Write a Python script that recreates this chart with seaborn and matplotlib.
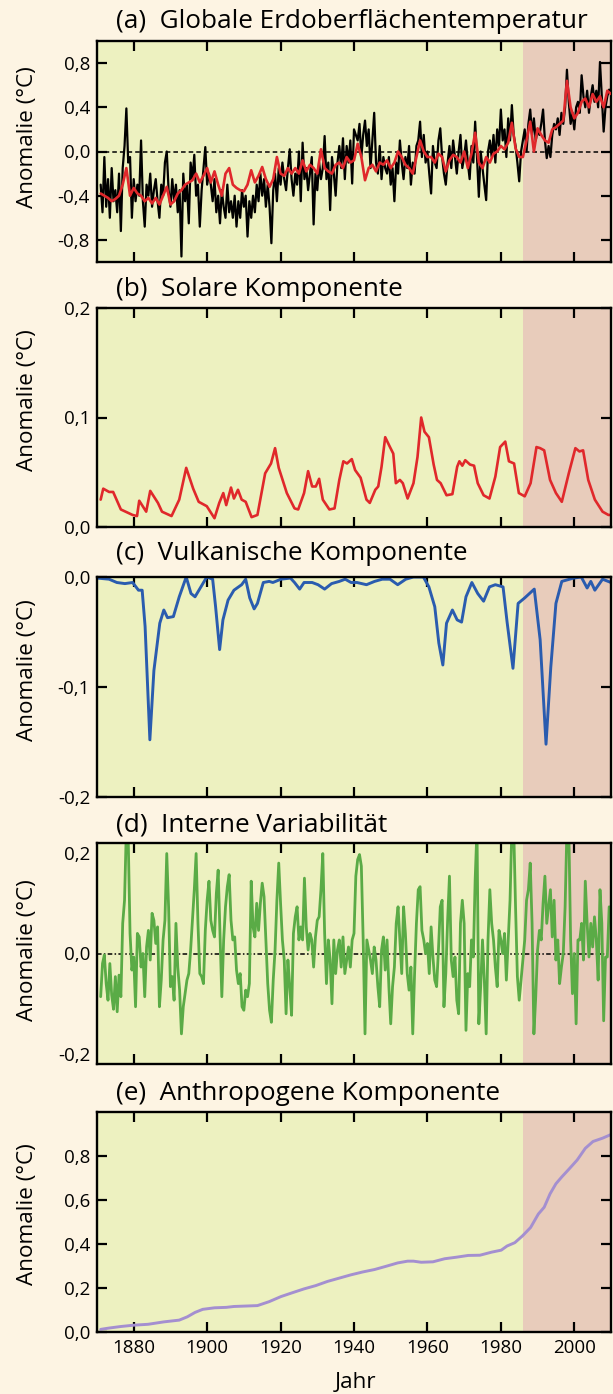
import numpy as np
import pandas as pd
import seaborn as sns
import matplotlib.pyplot as plt

# --- data ---
# (a) observed global temperature, half-year steps from 1871.0
obs_start = 1871.0
obs_temp = [
    -0.30, -0.55, -0.05, -0.50, -0.25, -0.60, -0.15, -0.45, -0.35, -0.55,
    -0.20, -0.72, -0.15, 0.05, 0.39, -0.10, -0.05, -0.60, -0.25, -0.45,
    -0.30, -0.40, 0.10, -0.45, -0.68, -0.30, -0.40, -0.20, -0.50, -0.35,
    -0.25, -0.45, -0.60, -0.30, -0.40, -0.10, 0.00, -0.35, -0.50, -0.25,
    -0.45, -0.30, -0.55, -0.35, -0.95, -0.20, -0.45, -0.30, -0.65, -0.10,
    -0.25, -0.03, -0.40, -0.30, -0.68, -0.35, -0.15, 0.04, -0.30, -0.20,
    -0.30, -0.45, -0.25, -0.55, -0.40, -0.65, -0.35, -0.50, -0.60, -0.30,
    -0.55, -0.45, -0.60, -0.40, -0.68, -0.45, -0.60, -0.35, -0.50, -0.40,
    -0.77, -0.45, -0.60, -0.40, -0.55, -0.30, -0.45, -0.20, -0.40, -0.25,
    -0.50, -0.30, -0.50, -0.83, -0.35, -0.20, -0.45, -0.15, -0.30, -0.10,
    -0.25, -0.35, -0.15, 0.02, -0.25, -0.40, -0.20, -0.30, 0.00, -0.45,
    0.08, -0.25, -0.15, -0.35, -0.20, -0.05, -0.66, -0.20, -0.35, -0.10,
    -0.25, -0.15, 0.14, -0.25, -0.10, -0.53, -0.05, -0.20, -0.40, -0.10,
    0.05, -0.15, 0.12, -0.25, 0.05, -0.10, 0.10, -0.29, 0.20, 0.15,
    0.10, 0.25, -0.05, 0.15, 0.28, 0.05, 0.20, -0.15, 0.10, 0.35,
    -0.10, -0.20, 0.05, -0.25, -0.05, -0.15, -0.20, -0.05, -0.30, -0.15,
    -0.45, -0.10, -0.20, 0.10, -0.10, -0.25, -0.05, -0.15, 0.05, -0.30,
    -0.10, -0.20, 0.05, 0.10, 0.27, -0.05, 0.15, -0.10, 0.00, -0.20,
    -0.38, 0.05, -0.10, -0.15, 0.10, 0.21, -0.05, -0.20, -0.30, -0.10,
    0.05, -0.15, 0.10, -0.05, -0.20, 0.00, 0.15, -0.15, -0.05, 0.10,
    -0.10, -0.25, 0.05, -0.10, 0.27, -0.05, -0.41, 0.00, -0.15, -0.30,
    -0.44, 0.00, 0.10, -0.05, 0.15, -0.10, 0.20, 0.05, 0.38, 0.10,
    0.20, -0.05, 0.30, 0.10, 0.42, 0.15, 0.05, -0.10, -0.27, 0.00,
    0.10, 0.20, 0.00, 0.25, 0.38, 0.15, 0.30, 0.10, 0.20, 0.15,
    0.25, 0.38, 0.10, -0.06, 0.05, -0.05, 0.15, 0.25, 0.20, 0.30,
    0.15, 0.35, 0.25, 0.40, 0.74, 0.45, 0.25, 0.35, 0.20, 0.40,
    0.45, 0.35, 0.69, 0.50, 0.40, 0.55, 0.35, 0.50, 0.60, 0.45,
    0.55, 0.40, 0.81, 0.50, 0.18, 0.40, 0.50, 0.56,
]
# (a) sum of the components (red), yearly from 1871
fit_start = 1871
fit_temp = [
    -0.38, -0.40, -0.42, -0.45, -0.43, -0.40, -0.30, -0.15, -0.40, -0.33,
    -0.38, -0.40, -0.45, -0.42, -0.47, -0.42, -0.48, -0.40, -0.32, -0.48,
    -0.45, -0.38, -0.35, -0.30, -0.28, -0.26, -0.20, -0.28, -0.22, -0.15,
    -0.28, -0.18, -0.30, -0.40, -0.20, -0.15, -0.30, -0.33, -0.35, -0.36,
    -0.30, -0.17, -0.28, -0.22, -0.14, -0.25, -0.32, -0.25, -0.05, -0.20,
    -0.22, -0.15, -0.20, -0.15, -0.20, -0.08, -0.18, -0.12, -0.15, -0.20,
    0.02, -0.15, -0.18, -0.20, -0.12, -0.10, -0.15, -0.05, -0.10, -0.08,
    0.07, -0.05, -0.26, -0.15, -0.12, -0.18, -0.10, -0.12, -0.08, -0.15,
    -0.10, 0.00, -0.05, -0.12, -0.15, -0.20, -0.05, 0.10, 0.00, -0.05,
    -0.05, -0.10, -0.02, -0.05, -0.18, -0.08, -0.03, -0.05, -0.10, 0.00,
    -0.15, -0.02, 0.17, -0.10, -0.15, -0.05, -0.10, -0.02, 0.00, 0.05,
    0.02, 0.08, 0.26, 0.03, -0.05, -0.05, 0.10, 0.27, 0.00, 0.21,
    0.15, 0.10, 0.08, 0.20, 0.22, 0.25, 0.28, 0.64, 0.40, 0.30,
    0.35, 0.45, 0.48, 0.40, 0.52, 0.45, 0.50, 0.40, 0.55, 0.52,
]

# (b) solar component
solar_year = [
    1871.0, 1871.7, 1873.3, 1874.4, 1876.5, 1879.7, 1880.9, 1881.5, 1883.4, 1884.5,
    1886.6, 1887.7, 1890.3, 1892.4, 1894.3, 1896.2, 1897.7, 1899.9, 1902.0, 1903.3,
    1904.4, 1905.2, 1906.5, 1907.3, 1908.4, 1909.4, 1910.5, 1912.1, 1913.7, 1915.8,
    1917.4, 1918.5, 1919.5, 1921.7, 1923.8, 1924.8, 1926.4, 1927.5, 1928.6, 1929.6,
    1930.5, 1931.5, 1933.3, 1934.7, 1936.0, 1937.1, 1938.1, 1939.4, 1940.3, 1941.8,
    1943.4, 1944.3, 1945.8, 1946.6, 1947.5, 1948.5, 1949.8, 1950.7, 1951.4, 1952.5,
    1953.3, 1954.6, 1956.2, 1957.3, 1958.3, 1959.2, 1960.4, 1961.7, 1962.6, 1963.6,
    1965.2, 1966.8, 1968.1, 1968.7, 1969.5, 1970.3, 1971.6, 1972.7, 1973.7, 1975.3,
    1976.9, 1978.5, 1979.8, 1981.2, 1982.2, 1983.6, 1984.9, 1986.5, 1988.1, 1989.7,
    1990.7, 1991.8, 1993.4, 1995.0, 1996.6, 1998.5, 2000.3, 2001.4, 2002.4, 2003.8,
    2005.6, 2007.7, 2009.3, 2010.0,
]
solar_val = [
    0.025, 0.035, 0.032, 0.032, 0.016, 0.011, 0.010, 0.024, 0.014, 0.033,
    0.022, 0.014, 0.010, 0.025, 0.054, 0.035, 0.023, 0.019, 0.008, 0.022,
    0.031, 0.020, 0.036, 0.026, 0.034, 0.025, 0.023, 0.009, 0.011, 0.049,
    0.058, 0.072, 0.054, 0.031, 0.017, 0.016, 0.031, 0.051, 0.037, 0.037,
    0.044, 0.025, 0.016, 0.017, 0.043, 0.060, 0.058, 0.062, 0.052, 0.045,
    0.025, 0.022, 0.034, 0.037, 0.055, 0.082, 0.073, 0.067, 0.040, 0.043,
    0.040, 0.026, 0.040, 0.064, 0.100, 0.087, 0.082, 0.057, 0.043, 0.040,
    0.029, 0.030, 0.055, 0.060, 0.056, 0.061, 0.057, 0.056, 0.040, 0.029,
    0.026, 0.046, 0.073, 0.078, 0.060, 0.058, 0.031, 0.028, 0.040, 0.073,
    0.072, 0.070, 0.043, 0.031, 0.023, 0.049, 0.072, 0.069, 0.070, 0.043,
    0.025, 0.014, 0.011, 0.011,
]

# (c) volcanic component
volc_year = [
    1870.1, 1873.3, 1875.4, 1877.6, 1879.7, 1881.3, 1882.3, 1883.1, 1884.4, 1885.5,
    1887.1, 1888.2, 1889.2, 1890.8, 1892.4, 1894.3, 1895.6, 1896.7, 1898.3, 1899.9,
    1901.5, 1902.3, 1903.4, 1904.3, 1905.7, 1907.3, 1909.4, 1910.5, 1911.6, 1912.8,
    1913.7, 1915.3, 1916.9, 1917.9, 1920.1, 1922.7, 1923.8, 1925.2, 1926.4, 1928.6,
    1930.2, 1932.0, 1933.9, 1936.0, 1937.6, 1939.2, 1940.8, 1943.4, 1945.6, 1947.7,
    1949.8, 1951.9, 1954.1, 1956.2, 1958.9, 1960.4, 1962.0, 1963.1, 1964.2, 1965.2,
    1966.8, 1968.1, 1969.3, 1970.5, 1972.1, 1973.7, 1975.3, 1976.9, 1978.5, 1980.6,
    1981.7, 1983.3, 1984.7, 1986.5, 1989.1, 1990.7, 1992.3, 1993.6, 1995.0, 1996.6,
    1999.8, 2001.9, 2003.5, 2004.5, 2005.6, 2007.7, 2010.0,
]
volc_val = [
    -0.001, -0.002, -0.005, -0.006, -0.005, -0.012, -0.012, -0.045, -0.148, -0.085,
    -0.042, -0.030, -0.037, -0.036, -0.018, 0.000, -0.015, -0.018, -0.009, 0.000,
    -0.002, -0.027, -0.066, -0.039, -0.021, -0.012, -0.007, -0.002, -0.019, -0.029,
    -0.024, -0.005, -0.004, -0.005, -0.002, -0.001, -0.005, -0.011, -0.005, -0.005,
    -0.007, -0.011, -0.006, -0.004, -0.002, -0.005, -0.005, -0.007, -0.004, -0.002,
    -0.002, -0.007, -0.002, 0.000, 0.000, -0.009, -0.027, -0.060, -0.080, -0.042,
    -0.030, -0.039, -0.041, -0.018, -0.005, -0.015, -0.022, -0.009, -0.007, -0.009,
    -0.041, -0.083, -0.024, -0.019, -0.011, -0.057, -0.152, -0.082, -0.024, -0.004,
    -0.001, 0.000, -0.010, -0.004, -0.012, -0.002, -0.005,
]

# (d) internal variability, half-year steps from 1871.0
int_start = 1871.0
int_var = [
    -0.086, -0.020, -0.003, -0.060, -0.093, -0.020, -0.083, -0.111, -0.046, -0.116,
    -0.043, -0.086, 0.060, 0.106, 0.250, 0.230, 0.040, -0.033, -0.007, -0.106,
    0.040, 0.033, -0.027, 0.000, -0.086, 0.013, 0.046, -0.013, 0.080, 0.066,
    0.020, 0.053, -0.106, -0.053, 0.027, 0.066, 0.199, 0.093, -0.066, -0.046,
    -0.093, 0.060, -0.027, -0.073, -0.160, -0.106, -0.080, -0.053, -0.040, 0.007,
    0.066, 0.127, 0.199, 0.060, -0.040, -0.046, -0.060, 0.046, 0.106, 0.144,
    0.066, 0.046, 0.033, 0.119, 0.166, 0.040, -0.086, 0.027, 0.093, 0.133,
    0.157, 0.066, 0.027, 0.033, -0.033, -0.060, -0.040, -0.106, -0.113, -0.073,
    -0.086, -0.060, 0.144, 0.053, 0.033, 0.100, 0.046, 0.100, 0.140, 0.113,
    0.027, -0.060, -0.113, -0.137, -0.053, 0.007, 0.106, 0.180, 0.100, 0.027,
    -0.013, -0.120, -0.013, -0.066, -0.123, 0.040, 0.073, 0.093, 0.027, 0.053,
    0.027, 0.150, 0.053, 0.007, 0.040, 0.027, -0.027, 0.033, 0.066, 0.073,
    0.127, 0.199, 0.040, -0.060, 0.027, -0.013, -0.100, 0.027, -0.040, 0.007,
    0.027, -0.027, 0.033, -0.040, -0.013, 0.013, -0.027, 0.027, 0.040,
    0.154, 0.187, 0.197, 0.174, 0.027, -0.160, 0.027, 0.007, -0.013, -0.040,
    0.013, -0.013, -0.066, -0.106, 0.007, 0.033, -0.033, 0.027, -0.066, -0.140,
    -0.066, -0.027, 0.060, 0.093, 0.027, -0.040, 0.093, 0.040, -0.040, -0.073,
    -0.027, -0.160, -0.040, 0.060, 0.127, 0.133, 0.046, 0.027, 0.000, 0.020,
    -0.040, 0.053, -0.007, -0.053, -0.066, 0.007, 0.093, 0.106, -0.106, -0.040,
    0.066, 0.154, -0.013, -0.046, -0.007, -0.093, -0.120, 0.060, 0.106, 0.060,
    -0.153, -0.040, -0.066, 0.027, -0.007, 0.147, 0.250, -0.140, -0.066, 0.027,
    -0.053, -0.160, 0.027, 0.127, 0.060, 0.027, -0.027, -0.066, 0.046, 0.027,
    0.000, 0.040, -0.053, 0.027, 0.106, 0.250, 0.250, 0.093, -0.046, -0.093,
    -0.053, -0.013, 0.027, 0.106, 0.127, 0.180, 0.060, -0.160, -0.086, 0.007,
    0.046, 0.027, 0.100, 0.154, 0.060, 0.093, 0.127, 0.033, 0.106, -0.013,
    0.027, -0.060, -0.027, 0.000, 0.093, 0.250, 0.250, 0.027, -0.080, 0.000,
    -0.140, 0.027, 0.027, 0.060, -0.013, 0.144, 0.060, -0.007, 0.060, 0.013,
    0.073, 0.027, -0.053, 0.127, 0.060, -0.134, -0.007, -0.007, 0.093,
]

# (e) anthropogenic component
anthro_year = [
    1871.0, 1873.3, 1876.5, 1880.0, 1883.9, 1888.2, 1892.4, 1894.6, 1896.7, 1898.8,
    1902.0, 1905.2, 1907.3, 1910.5, 1913.7, 1916.9, 1920.1, 1923.3, 1926.4, 1929.6,
    1932.8, 1936.0, 1939.2, 1942.4, 1945.6, 1948.8, 1951.9, 1954.6, 1956.2, 1958.3,
    1961.5, 1964.7, 1967.9, 1971.1, 1974.3, 1977.5, 1980.1, 1981.7, 1983.8, 1985.9,
    1988.1, 1990.2, 1991.8, 1993.4, 1995.0, 1996.6, 1998.7, 2000.8, 2003.0, 2005.1,
    2007.7, 2009.9,
]
anthro_val = [
    0.012, 0.018, 0.025, 0.031, 0.035, 0.046, 0.054, 0.069, 0.089, 0.103,
    0.110, 0.112, 0.116, 0.118, 0.120, 0.138, 0.161, 0.179, 0.196, 0.211,
    0.230, 0.245, 0.260, 0.273, 0.284, 0.299, 0.314, 0.322, 0.322, 0.317,
    0.319, 0.333, 0.340, 0.348, 0.349, 0.363, 0.372, 0.391, 0.406, 0.437,
    0.475, 0.536, 0.567, 0.628, 0.674, 0.705, 0.743, 0.782, 0.835, 0.866,
    0.881, 0.897,
]

titles = [
    "(a)  Globale Erdoberflächentemperatur",
    "(b)  Solare Komponente",
    "(c)  Vulkanische Komponente",
    "(d)  Interne Variabilität",
    "(e)  Anthropogene Komponente",
]
ytick_vals = [
    [-0.8, -0.4, 0.0, 0.4, 0.8],
    [0.0, 0.1, 0.2],
    [-0.2, -0.1, 0.0],
    [-0.2, 0.0, 0.2],
    [0.0, 0.2, 0.4, 0.6, 0.8],
]
ytick_text = [
    ["-0,8", "-0,4", "0,0", "0,4", "0,8"],
    ["0,0", "0,1", "0,2"],
    ["-0,2", "-0,1", "0,0"],
    ["-0,2", "0,0", "0,2"],
    ["0,0", "0,2", "0,4", "0,6", "0,8"],
]
ylims = [(-1.0, 1.0), (0.0, 0.2), (-0.2, 0.0), (-0.22, 0.22), (0.0, 1.0)]
xtick_vals = [1880, 1900, 1920, 1940, 1960, 1980, 2000]
split_year = 1986

# --- styling ---
sns.set_theme(style="ticks")
plt.rcParams["font.family"] = ["Open Sans", "DejaVu Sans"]
plt.rcParams["text.color"] = "black"
plt.rcParams["xtick.color"] = "black"
plt.rcParams["ytick.color"] = "black"
bg = "#fdf4e3"
green_bg = "#edf1c0"
pink_bg = "#e8ccbb"

W, H = 613, 1394
fig = plt.figure(figsize=(W / 100, H / 100), dpi=100, facecolor=bg)

# panel boxes in pixels: (top, bottom), plus title and ylabel centres
boxes = [(41, 262), (308, 527), (577, 797), (843, 1064), (1112, 1332)]
title_y = [22, 289, 554, 825, 1093]
ylab_y = [137, 400, 670, 950, 1214]
left_px, right_px = 97, 611

axes = []
for i, (top, bot) in enumerate(boxes):
    ax = fig.add_axes([left_px / W, 1 - bot / H, (right_px - left_px) / W, (bot - top) / H])
    ax.set_facecolor(bg)
    ax.axvspan(1870, split_year, color=green_bg, lw=0, zorder=0)
    ax.axvspan(split_year, 2010, color=pink_bg, lw=0, zorder=0)
    ax.set_xlim(1870, 2010)
    ax.set_ylim(*ylims[i])
    ax.set_xticks(xtick_vals)
    ax.set_yticks(ytick_vals[i])
    ax.set_yticklabels(ytick_text[i])
    ax.tick_params(direction="in", top=True, right=True, length=7, width=1.6,
                   labelsize=13.5, color="black", labelcolor="black", pad=5)
    if i < 4:
        ax.set_xticklabels([])
    for s in ax.spines.values():
        s.set_linewidth(1.7)
        s.set_color("black")
    fig.text(116 / W, 1 - title_y[i] / H, titles[i], fontsize=18.8, ha="left", va="center",
             color="black")
    fig.text(27 / W, 1 - ylab_y[i] / H, "Anomalie (°C)", fontsize=16.2, rotation=90,
             ha="center", va="center", color="black")
    axes.append(ax)

# (a)
ax = axes[0]
ax.axhline(0, color="black", lw=1.1, ls=(0, (3, 2)), zorder=1)
obs_df = pd.DataFrame({"Jahr": obs_start + 0.5 * np.arange(len(obs_temp)), "T": obs_temp})
fit_df = pd.DataFrame({"Jahr": fit_start + np.arange(len(fit_temp)), "T": fit_temp})
sns.lineplot(data=obs_df, x="Jahr", y="T", ax=ax, color="black", lw=1.6, estimator=None, zorder=2)
sns.lineplot(data=fit_df, x="Jahr", y="T", ax=ax, color="#e0282b", lw=1.9, estimator=None, zorder=3)

# (b)
sns.lineplot(x=solar_year, y=solar_val, ax=axes[1], color="#e0282b", lw=1.9, estimator=None)

# (c)
sns.lineplot(x=volc_year, y=volc_val, ax=axes[2], color="#2a5caf", lw=2.1, estimator=None)

# (d)
ax = axes[3]
ax.axhline(0, color="black", lw=1.1, ls=(0, (3, 1.5, 1, 1.5)), zorder=1)
int_df = pd.DataFrame({"Jahr": int_start + 0.5 * np.arange(len(int_var)), "T": int_var})
sns.lineplot(data=int_df, x="Jahr", y="T", ax=ax, color="#5aab46", lw=2.0, estimator=None, zorder=2)
ax.tick_params(axis="y", length=0)

# (e)
sns.lineplot(x=anthro_year, y=anthro_val, ax=axes[4], color="#a48fd0", lw=2.1, estimator=None)

for ax in axes:
    ax.set_xlabel("")
    ax.set_ylabel("")
    ax.set_xlim(1870, 2010)

fig.text(356 / W, 1 - 1383 / H, "Jahr", fontsize=16.2, ha="center", va="center", color="black")

fig.savefig("out.png", dpi=100, facecolor=bg)
